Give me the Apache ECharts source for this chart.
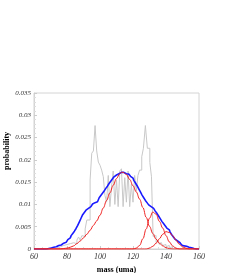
<!DOCTYPE html>
<html><head><meta charset="utf-8">
<script src="https://cdn.jsdelivr.net/npm/echarts@6/dist/echarts.min.js"></script>
<style>html,body{margin:0;padding:0;background:#fff}#c{width:245px;height:273px}</style>
</head><body><div id="c"></div>
<script>
// histogram (gray step outline): left edge of each bin and its probability
const histMass = [74,75,76,77,78,79,80,81,82,83,84,85,86,87,88,89,90,91,92,93,94,95,96,97,98,99,100,101,102,103,104,105,106,107,108,109,110,111,112,113,114,115,116,117,118,119,120,121,122,123,124,125.3,126.3,127.5,128.7,130.2,131.2,132.2,133,134,135,136,137,138,139,140,141,142,143,144];
const histProb = [0.0003,0.0005,0.0003,0.0008,0.0004,0.001,0.0007,0.0012,0.0009,0.0014,0.0018,0.0012,0.002,0.0027,0.002,0.003,0.0028,0.0045,0.0065,0.0065,0.0155,0.0215,0.022,0.0277,0.022,0.0195,0.0188,0.0177,0.0162,0.012,0.0105,0.0165,0.0095,0.014,0.0175,0.01,0.0155,0.0095,0.0175,0.018,0.0095,0.016,0.0105,0.0175,0.0095,0.0145,0.0105,0.0165,0.013,0.0165,0.0177,0.0207,0.0226,0.0277,0.0226,0.0194,0.0162,0.0028,0.003,0.0015,0.002,0.001,0.0015,0.0008,0.001,0.0005,0.0008,0.0003,0.0005,0];
// blue stepped distribution
const blueMass = [60,61,62,63,64,65,66,67,68,69,70,71,72,73,74,75,76,77,78,79,80,81,82,83,84,85,86,87,88,89,90,91,92,93,94,95,96,97,98,99,100,101,102,103,104,105,106,107,108,109,110,111,112,113,114,115,116,117,118,119,120,121,122,123,124,125,126,127,128,129,130,131,132,133,134,135,136,137,138,139,140,141,142,143,144,145,146,147,148,149,150,151,152,153,154,155,156,157,158,159,160];
const blueProb = [0,0,0,0,0,0,0,0,0,0.0001,0.0002,0.0003,0.0004,0.0005,0.0006,0.0008,0.0009,0.0011,0.0013,0.0015,0.0017,0.0021,0.0025,0.003,0.0035,0.004,0.0046,0.0053,0.0061,0.0069,0.0077,0.0082,0.0087,0.0091,0.0095,0.0099,0.0101,0.0104,0.0106,0.011,0.0115,0.012,0.0125,0.013,0.0136,0.0141,0.0147,0.0152,0.0157,0.0162,0.0166,0.0169,0.0171,0.0172,0.0172,0.0171,0.0169,0.0168,0.0166,0.0163,0.0159,0.0154,0.0148,0.0142,0.0135,0.0128,0.0121,0.0115,0.0109,0.0104,0.0099,0.0095,0.0091,0.0088,0.0085,0.008,0.0074,0.0068,0.0062,0.0057,0.0052,0.0047,0.0043,0.0038,0.0032,0.0027,0.0022,0.0018,0.0014,0.0011,0.0009,0.0007,0.0006,0.0005,0.0004,0.0003,0.0002,0.0001,0,0,0];
// red fitted components
const redMass = [60,64,68,72,76,78,80,82,84,86,88,90,92,94,96,98,100,102,104,106,108,110,112,113,114,116,118,120,122,124,126,128,130,132,134,136,138,140,142,144,146,148,150,152,154,156,160];
const red1 = [0,0,0,0,0,0.0001,0.0002,0.0004,0.0007,0.0012,0.0018,0.0025,0.0033,0.0042,0.0053,0.0063,0.0076,0.0092,0.0109,0.0126,0.0143,0.0158,0.0169,0.0172,0.0172,0.0167,0.0156,0.0142,0.0128,0.0112,0.0093,0.0071,0.0051,0.0035,0.0022,0.0013,0.0007,0.0003,0.0001,0,0,0,0,0,0,0,0];
const red2 = [0,0,0,0,0,0,0,0,0,0,0,0,0,0,0,0,0,0,0,0,0,0,0,0,0,0,0,0,0.0002,0.0008,0.0023,0.0045,0.0069,0.0083,0.0078,0.0062,0.0047,0.003,0.0016,0.0007,0.0002,0,0,0,0,0,0];
const red3 = [0,0,0,0,0,0,0,0,0,0,0,0,0,0,0,0,0,0,0,0,0,0,0,0,0,0,0,0,0,0,0,0,0.0002,0.0006,0.0013,0.0023,0.0033,0.0039,0.0037,0.003,0.002,0.0011,0.0005,0.0002,0,0,0];
const xTicks = [60,80,100,120,140,160];
const yTicks = [0,0.005,0.01,0.015,0.02,0.025,0.03,0.035];

const zip = (a,b)=>a.map((v,i)=>[v,b[i]]);
const chart = echarts.init(document.getElementById('c'));
const tickFont = {fontFamily:'Liberation Serif',fontStyle:'italic',color:'#333'};
const redLine = {color:'#ee2222',width:1};
chart.setOption({
  animation:false,
  grid:{left:34,right:46,top:93,bottom:24,containLabel:false,outerBoundsMode:'none',show:true,borderColor:'#d4d4d4',borderWidth:1},
  xAxis:{type:'value',min:xTicks[0],max:xTicks[xTicks.length-1],interval:20,
    name:'mass (uma)',nameLocation:'middle',nameGap:17,nameMoveOverlap:false,
    nameTextStyle:{fontFamily:'Liberation Serif',fontWeight:'bold',fontSize:8,color:'#000'},
    axisLine:{lineStyle:{color:'#d4d4d4'}},axisTick:{inside:true,length:3,lineStyle:{color:'#ccc'}},
    minorTick:{show:true,splitNumber:4,length:2,lineStyle:{color:'#ddd'}},
    splitLine:{show:false},
    axisLabel:Object.assign({fontSize:8,margin:4},tickFont)},
  yAxis:{type:'value',min:0,max:yTicks[yTicks.length-1],interval:0.005,
    name:'probability',nameLocation:'middle',nameGap:23,nameMoveOverlap:false,
    nameTextStyle:{fontFamily:'Liberation Serif',fontWeight:'bold',fontSize:8,color:'#000',padding:[0,0,0,40]},
    axisLine:{lineStyle:{color:'#d4d4d4'}},axisTick:{inside:true,length:3,lineStyle:{color:'#ccc'}},
    minorTick:{show:true,splitNumber:5,length:2,lineStyle:{color:'#ddd'}},
    splitLine:{show:false},
    axisLabel:Object.assign({fontSize:7,margin:3,formatter:v=>String(+v.toFixed(3))},tickFont)},
  series:[
    {type:'line',step:'end',data:zip(histMass,histProb),symbol:'none',lineStyle:{color:'#c8c8c8',width:1},z:1},
    {type:'line',step:'middle',data:zip(blueMass,blueProb),symbol:'none',lineStyle:{color:'#1a1aff',width:1.6},z:2},
    {type:'line',smooth:0.4,smoothMonotone:'x',data:zip(redMass,red1),symbol:'none',lineStyle:redLine,z:3},
    {type:'line',smooth:0.4,smoothMonotone:'x',data:zip(redMass,red2),symbol:'none',lineStyle:redLine,z:3},
    {type:'line',smooth:0.4,smoothMonotone:'x',data:zip(redMass,red3),symbol:'none',lineStyle:redLine,z:3}
  ]
});
</script></body></html>
